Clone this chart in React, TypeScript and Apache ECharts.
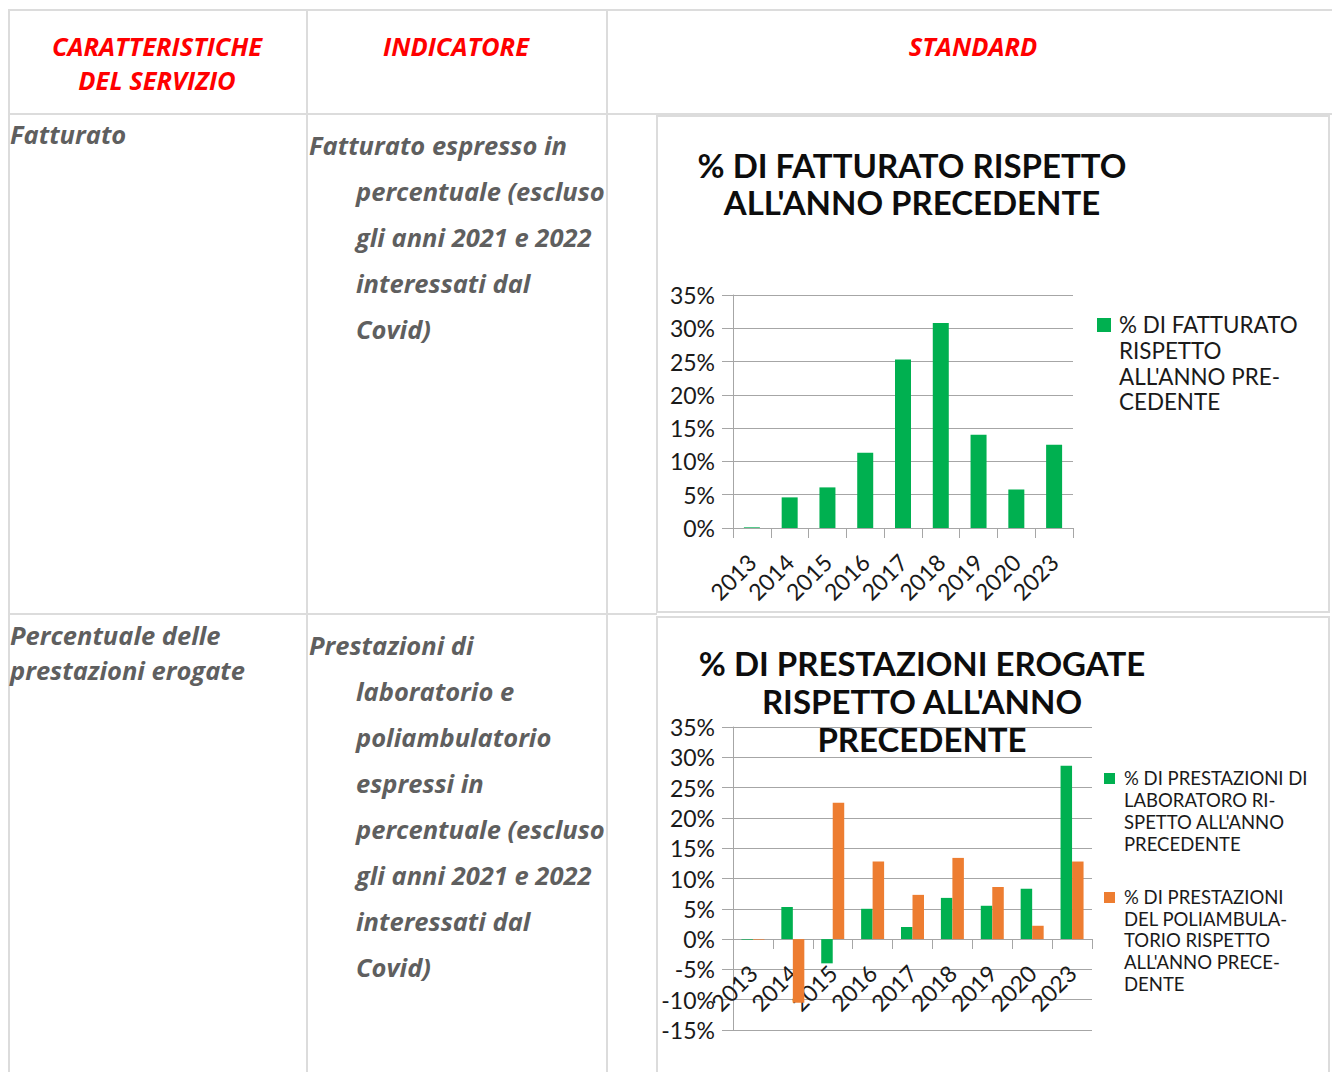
import React, { useEffect, useRef } from 'react';
import * as echarts from 'echarts';

const years = ['2013', '2014', '2015', '2016', '2017', '2018', '2019', '2020', '2023'];
const fatturato = [0.1, 4.6, 6.1, 11.3, 25.3, 30.8, 14.0, 5.8, 12.5];
const laboratorio = [-0.1, 5.3, -4.0, 5.0, 2.0, 6.8, 5.5, 8.3, 28.6];
const poliambulatorio = [-0.1, -10.5, 22.5, 12.8, 7.3, 13.4, 8.6, 2.2, 12.8];

const nameFatturato = "% DI FATTURATO RISPETTO ALL'ANNO PRECEDENTE";
const nameLab = "% DI PRESTAZIONI DI LABORATORO RISPETTO ALL'ANNO PRECEDENTE";
const namePoli = "% DI PRESTAZIONI DEL POLIAMBULATORIO RISPETTO ALL'ANNO PRECEDENTE";

const titleFatturato = "% DI FATTURATO RISPETTO\nALL'ANNO PRECEDENTE";
const titlePrestazioni = "% DI PRESTAZIONI EROGATE\nRISPETTO ALL'ANNO\nPRECEDENTE";
const legendFatturato = "% DI FATTURATO\nRISPETTO\nALL'ANNO PRE-\nCEDENTE";
const legendLab = "% DI PRESTAZIONI DI\nLABORATORO RI-\nSPETTO ALL'ANNO\nPRECEDENTE";
const legendPoli = "% DI PRESTAZIONI\nDEL POLIAMBULA-\nTORIO RISPETTO\nALL'ANNO PRECE-\nDENTE";

const headerCaratteristiche = ['CARATTERISTICHE', 'DEL SERVIZIO'];
const headerIndicatore = 'INDICATORE';
const headerStandard = 'STANDARD';
const row1Caratteristica = ['Fatturato'];
const row1Indicatore = ['Fatturato espresso in', 'percentuale (escluso', 'gli anni 2021 e 2022', 'interessati dal', 'Covid)'];
const row2Caratteristica = ['Percentuale delle', 'prestazioni erogate'];
const row2Indicatore = ['Prestazioni di', 'laboratorio e', 'poliambulatorio', 'espressi in', 'percentuale (escluso', 'gli anni 2021 e 2022', 'interessati dal', 'Covid)'];

const GREEN = '#00b050';
const ORANGE = '#ed7d31';
const GRID = '#a6a6a6';
const TABLE_LINE = '#dcdcdc';
const CHART_FONT = 'Lato';
const TABLE_FONT = 'Open Sans';

function App() {
  const ref = useRef<HTMLDivElement>(null);
  useEffect(() => {
    if (!ref.current) return;
    const chart = echarts.init(ref.current, null, { renderer: 'svg' });

    const tableText = (text: string, x: number, y: number, color: string, align: string, size: number) => ({
      type: 'text',
      x,
      y,
      silent: true,
      style: {
        text,
        fill: color,
        fontFamily: TABLE_FONT,
        fontSize: size,
        fontWeight: 'bold',
        fontStyle: 'italic',
        textAlign: align,
        align,
        textVerticalAlign: 'middle',
        verticalAlign: 'middle',
      },
    });
    const hLine = (x1: number, x2: number, y: number) => ({
      type: 'line', silent: true,
      shape: { x1, y1: y, x2, y2: y },
      style: { stroke: TABLE_LINE, lineWidth: 2 },
    });
    const vLine = (x: number, y1: number, y2: number) => ({
      type: 'line', silent: true,
      shape: { x1: x, y1, x2: x, y2 },
      style: { stroke: TABLE_LINE, lineWidth: 2 },
    });
    const legendText = (text: string, x: number, y: number, size: number, lh: number) => ({
      type: 'text', x, y, silent: true,
      style: {
        text, fill: '#1a1a1a', fontFamily: CHART_FONT, fontSize: size, lineHeight: lh,
        textAlign: 'left', align: 'left', textVerticalAlign: 'top', verticalAlign: 'top',
      },
    });
    const legendBox = (x: number, y: number, s: number, color: string) => ({
      type: 'rect', silent: true, shape: { x, y, width: s, height: s }, style: { fill: color },
    });

    const TEXT_GREY = '#5f5f5f';
    const HEAD = 25.5;
    const BODY = 25.5;
    const graphic: any[] = [
      hLine(8, 1332, 10),
      hLine(8, 1332, 114),
      hLine(8, 657, 614),
      vLine(9, 10, 1072),
      vLine(307, 10, 1072),
      vLine(607, 10, 1072),
      { type: 'rect', silent: true, shape: { x: 657, y: 116, width: 672, height: 496 }, style: { fill: 'none', stroke: TABLE_LINE, lineWidth: 2 } },
      { type: 'rect', silent: true, shape: { x: 657, y: 617, width: 672, height: 470 }, style: { fill: 'none', stroke: TABLE_LINE, lineWidth: 2 } },
      tableText(headerCaratteristiche[0], 157, 46, '#ff0000', 'center', HEAD),
      tableText(headerCaratteristiche[1], 157, 80, '#ff0000', 'center', HEAD),
      tableText(headerIndicatore, 456, 46, '#ff0000', 'center', HEAD),
      tableText(headerStandard, 973, 46, '#ff0000', 'center', HEAD),
      ...row1Caratteristica.map((t, i) => tableText(t, 10, 134 + i * 35, TEXT_GREY, 'left', BODY)),
      ...row1Indicatore.map((t, i) => tableText(t, i === 0 ? 309 : 356, 145 + i * 46, TEXT_GREY, 'left', BODY)),
      ...row2Caratteristica.map((t, i) => tableText(t, 10, 635 + i * 35, TEXT_GREY, 'left', BODY)),
      ...row2Indicatore.map((t, i) => tableText(t, i === 0 ? 309 : 356, 645 + i * 46, TEXT_GREY, 'left', BODY)),
      legendBox(1097, 318, 14, GREEN),
      legendText(legendFatturato, 1119, 312, 22.4, 25.7),
      legendBox(1104, 773, 11, GREEN),
      legendText(legendLab, 1124, 767, 18.5, 22),
      legendBox(1104, 892, 11, ORANGE),
      legendText(legendPoli, 1124, 886, 18.5, 21.75),
    ];

    const axisLabelStyle = { color: '#1a1a1a', fontFamily: CHART_FONT, fontSize: 23 };

    chart.setOption({
      animation: false,
      backgroundColor: '#ffffff',
      title: [
        {
          text: titleFatturato,
          left: 912, top: 146, padding: 0, textAlign: 'center',
          textStyle: { fontFamily: CHART_FONT, fontWeight: 'bold', fontSize: 33, lineHeight: 37, color: '#0d0d0d' },
        },
        {
          text: titlePrestazioni,
          left: 922, top: 644, padding: 0, textAlign: 'center', z: 10,
          textStyle: { fontFamily: CHART_FONT, fontWeight: 'bold', fontSize: 33, lineHeight: 38, color: '#0d0d0d' },
        },
      ],
      grid: [
        { left: 733, top: 295, width: 340, height: 233 },
        { left: 733, top: 727, width: 359, height: 303 },
      ],
      xAxis: [
        {
          type: 'category', gridIndex: 0, data: years,
          axisLine: { lineStyle: { color: GRID, width: 1 } },
          axisTick: { show: true, length: 10, lineStyle: { color: GRID } },
          axisLabel: { ...axisLabelStyle, rotate: 45, margin: 30, interval: 0 },
        },
        {
          type: 'category', gridIndex: 1, data: years, position: 'bottom', offset: -91,
          axisLine: { onZero: false, lineStyle: { color: GRID, width: 1 } },
          axisTick: { show: true, length: 10, lineStyle: { color: GRID } },
          axisLabel: { ...axisLabelStyle, rotate: 45, margin: 30, interval: 0 },
        },
      ],
      yAxis: [
        {
          type: 'value', gridIndex: 0, min: 0, max: 35, interval: 5,
          axisLine: { show: true, lineStyle: { color: GRID } },
          axisTick: { show: true, length: 11, lineStyle: { color: GRID } },
          splitLine: { lineStyle: { color: GRID } },
          axisLabel: { ...axisLabelStyle, formatter: '{value}%', margin: 18 },
        },
        {
          type: 'value', gridIndex: 1, min: -15, max: 35, interval: 5,
          axisLine: { show: true, lineStyle: { color: GRID } },
          axisTick: { show: true, length: 11, lineStyle: { color: GRID } },
          splitLine: { lineStyle: { color: GRID } },
          axisLabel: { ...axisLabelStyle, formatter: '{value}%', margin: 18 },
        },
      ],
      series: [
        {
          name: nameFatturato, type: 'bar', xAxisIndex: 0, yAxisIndex: 0,
          data: fatturato, barWidth: 16, itemStyle: { color: GREEN },
        },
        {
          name: nameLab, type: 'bar', xAxisIndex: 1, yAxisIndex: 1,
          data: laboratorio, barWidth: 11.5, barGap: '0%', itemStyle: { color: GREEN },
        },
        {
          name: namePoli, type: 'bar', xAxisIndex: 1, yAxisIndex: 1,
          data: poliambulatorio, barWidth: 11.5, barGap: '0%', itemStyle: { color: ORANGE },
        },
      ],
      graphic,
    });
    return () => chart.dispose();
  }, []);

  return (
    <div
      ref={ref}
      style={{ position: 'fixed', left: 0, top: 0, width: 1332, height: 1072, background: '#fff' }}
    />
  );
}

export default App;
